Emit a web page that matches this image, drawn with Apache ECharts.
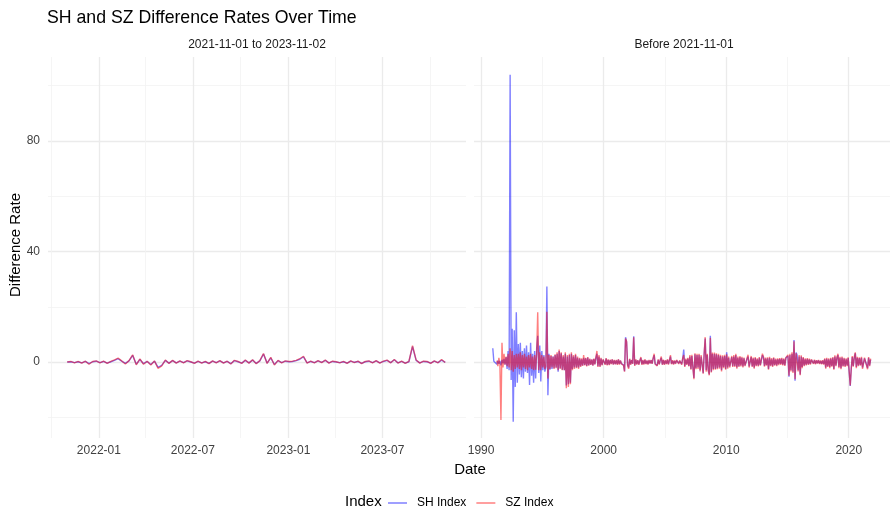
<!DOCTYPE html>
<html><head><meta charset="utf-8">
<script src="https://cdn.jsdelivr.net/npm/echarts@6/dist/echarts.min.js"></script>
<style>html,body{margin:0;padding:0;background:#fff}#c{width:890px;height:510px}</style>
</head><body><div id="c"></div>
<script>
const seriesNames = ['SH Index', 'SZ Index'];
const panelTitles = ['2021-11-01 to 2023-11-02', 'Before 2021-11-01'];

// Left panel: weekly readings starting 2021-11-01
const leftStartDate = '2021-11-01';
const leftStepDays = 7;
const shLeft = [
  0.0, 0.1, -0.2, 0.1, -0.3, 0.2, -0.6, 0.1, 0.3, -0.2,
  0.2, -0.4, 0.1, 0.6, 1.2, 0.3, -0.5, 0.4, 2.4, -0.8,
  0.9, -0.6, 0.2, -0.9, 0.3, -1.9, -1.2, 0.6, -0.4, 0.5,
  -0.3, 0.3, -0.2, 0.4, 0.0, -0.4, 0.2, -0.3, 0.1, -0.5,
  0.3, -0.2, 0.4, -0.3, 0.2, -0.6, 0.5, 0.1, -0.4, 0.6,
  -0.3, 0.7, -0.5, 0.4, 2.9, -0.4, 1.5, -0.9, 0.5, -0.2,
  0.3, 0.1, 0.2, 0.5, 1.0, 1.9, -0.3, 0.2, -0.2, 0.4,
  -0.1, 0.6, -0.3, 0.2, 0.0, -0.2, 0.1, -0.4, 0.3, -0.1,
  0.2, -0.5, 0.1, 0.3, -0.2, 0.4, -0.3, 0.2, 0.6, -0.2,
  0.8, -0.3, 0.2, -0.4, 0.1, 5.6, 0.6, -0.3, 0.2, 0.1,
  -0.4, 0.3, -0.2, 0.7, -0.1
];
const szLeft = [
  0.0, 0.2, -0.3, 0.2, -0.4, 0.3, -0.8, 0.2, 0.4, -0.3,
  0.3, -0.5, 0.2, 0.8, 1.4, 0.4, -0.7, 0.5, 2.6, -1.0,
  1.1, -0.8, 0.3, -1.1, 0.4, -2.3, -1.4, 0.7, -0.5, 0.6,
  -0.4, 0.4, -0.3, 0.5, 0.1, -0.5, 0.3, -0.4, 0.2, -0.6,
  0.4, -0.3, 0.5, -0.4, 0.3, -0.7, 0.6, 0.2, -0.5, 0.7,
  -0.4, 0.8, -0.6, 0.5, 3.1, -0.5, 1.7, -1.1, 0.6, -0.3,
  0.4, 0.2, 0.3, 0.6, 1.2, 2.1, -0.4, 0.3, -0.3, 0.5,
  -0.2, 0.7, -0.4, 0.3, 0.1, -0.3, 0.2, -0.5, 0.4, -0.2,
  0.3, -0.6, 0.2, 0.4, -0.3, 0.5, -0.4, 0.3, 0.7, -0.3,
  0.9, -0.4, 0.3, -0.5, 0.2, 5.9, 0.7, -0.4, 0.3, 0.2,
  -0.5, 0.4, -0.3, 0.9, -0.2
];

// Right panel: monthly readings (mid-month) starting 1990-12
const rightStartMonth = '1990-12';
const shRight = [
  5.0,
  0.3, -0.4, 0.6, -0.8, 0.5, -0.6, 0.4, -1.2, 0.8, -0.5, 1.1, -0.9,   // 1991
  1.8, -2.5, 4.0, -3.0, 104, -6.5, 12.0, -21.6, 11.5, -9.0, 18.0, -7.5, // 1992
  6.5, -4.5, 7.0, -5.5, 4.0, -6.0, 5.0, -3.5, 6.0, -4.0, 3.5, -8.3,   // 1993
  7.0, -5.0, 3.0, -7.5, 4.0, -6.0, 5.0, 9.5, -4.0, 6.0, -7.0, 4.0,    // 1994
  -3.0, 2.5, -3.5, -2.0, 27.3, -12.0, 3.0, -2.8, 2.2, -2.5, 2.0, -2.2, // 1995
  2.5, -2.0, 3.0, -3.5, 4.0, -2.2, 3.2, -2.8, 2.0, -3.0, 3.0, -8.5,   // 1996
  2.0, -8.0, 2.5, -7.5, 3.0, -2.5, 2.0, -2.0, 2.5, -2.0, 1.5, -2.0,   // 1997
  1.2, -1.5, 1.0, -1.2, 1.5, -1.0, 1.3, -1.4, 1.6, -1.1, 1.0, -0.9,   // 1998
  0.9, -1.2, 1.1, -0.8, 1.5, 3.0, -1.5, 2.0, -1.6, 1.2, -1.0, 0.8,    // 1999
  1.0, -0.8, 1.2, -1.0, 0.8, -0.9, 0.7, -0.6, 0.9, -0.8, 0.6, -0.7,   // 2000
  0.6, -0.8, 0.9, -0.7, 0.5, -0.6, -1.2, -1.0, -3.3, 9.0, 7.2, -1.0,  // 2001
  -2.0, 1.0, -0.8, 0.7, -0.6, 9.3, -1.2, 0.8, -0.7, 0.6, -0.8, 0.5,   // 2002
  1.5, -0.8, 0.6, -0.7, 0.8, -0.6, 0.5, -0.7, 0.6, -0.5, 0.7, -0.6,   // 2003
  1.2, 2.5, -0.6, -1.0, -1.2, 0.8, -0.7, 0.6, 1.5, -0.9, 0.7, -0.8,   // 2004
  0.5, -0.6, 0.8, -0.7, -0.9, 2.0, -0.6, 0.5, -0.7, 0.4, -0.5, 0.6,   // 2005
  0.7, -0.5, 0.4, 0.9, -0.8, 1.2, 4.5, -1.5, 0.9, -0.8, 1.2, -1.4,    // 2006
  2.0, -2.5, 2.2, -1.8, -5.8, 2.8, -2.2, 2.5, -2.0, 2.6, -3.0, 2.0,   // 2007
  2.5, -4.0, 2.8, 8.5, -3.0, 2.6, -2.8, -4.5, 9.5, -3.5, 3.0, -2.5,   // 2008
  3.0, -2.5, 2.8, -2.2, 2.5, -2.0, 2.2, -3.0, 2.0, -1.8, 2.2, -2.5,   // 2009
  3.5, -2.0, 1.5, -1.6, -2.2, 1.8, -1.5, 2.0, -1.4, 2.5, -2.0, 1.5,   // 2010
  -1.5, 1.8, -1.2, 1.5, -1.6, 1.3, -1.2, -1.5, 1.2, 2.0, -1.6, -1.2,  // 2011
  1.8, -1.5, 1.2, -2.0, 1.4, -1.2, 1.0, -1.3, 1.5, -1.0, -1.2, 2.5,   // 2012
  1.6, -1.4, 1.2, -1.0, 1.3, -2.5, 1.5, -1.2, 1.0, -1.5, 1.4, -1.0,   // 2013
  0.9, -1.2, 1.0, -0.8, 1.1, -0.7, 1.2, -0.9, 1.0, -1.1, 1.5, 2.0,    // 2014
  2.2, -5.3, 2.5, -3.0, 3.0, -3.5, 8.0, -6.8, 3.4, 2.5, -3.0, 2.0,    // 2015
  -4.5, 2.0, -1.8, 1.5, -1.2, 1.0, -0.9, 1.1, -0.8, 0.9, -0.7, 0.8,   // 2016
  0.6, -0.5, 0.7, -0.6, 0.5, -0.4, 0.6, -0.5, 0.4, -0.6, 0.5, -0.7,   // 2017
  1.0, -2.0, 1.2, -1.5, 1.0, -1.8, 1.2, -1.4, 1.5, -2.5, 2.0, -1.2,   // 2018
  1.5, 2.5, -1.8, 1.5, -2.2, 1.6, -1.4, 1.2, -1.5, 1.0, -1.2, 1.4,    // 2019
  1.5, -8.7, -2.5, 1.8, -1.4, 1.5, 3.2, -1.8, 1.5, -1.2, 1.4, -1.0,   // 2020
  1.5, -2.0, -1.8, 1.3, 1.2, -1.0, -2.2, 1.5, -1.2, 0.9               // 2021
];
const szRight = [
  null,
  null, null, null, 0.5, -1.5, 1.5, -0.8, -21.0, 7.0, -2.0, 3.0, -1.0, // 1991
  2.0, -1.5, 3.0, -2.0, 5.0, -3.0, 4.0, -3.5, 2.5, -2.5, 3.0, -2.0,   // 1992
  3.0, -2.5, 3.5, -3.0, 2.5, -2.0, 3.0, -2.5, 2.0, -3.0, 2.5, -2.0,   // 1993
  3.0, -2.5, 2.0, -3.0, 2.5, -2.8, 3.0, 18.0, -3.0, 3.5, -3.0, 2.5,   // 1994
  -2.0, 2.0, -2.5, -1.5, 18.2, -6.0, 2.5, -2.5, 2.5, -2.0, 2.0, -2.5, // 1995
  2.8, -2.2, 3.5, -3.0, 4.5, -2.5, 3.5, -3.0, 2.5, -3.0, 3.5, -9.5,   // 1996
  2.5, -9.0, 3.0, -8.0, 3.5, -3.0, 2.5, -2.5, 3.0, -2.2, 2.0, -2.5,   // 1997
  1.5, -1.8, 1.3, -1.4, 2.5, -1.2, 1.5, -1.6, 1.8, -1.3, 1.2, -1.0,   // 1998
  1.0, -1.3, 1.2, -0.9, 1.8, 4.0, -1.8, 2.5, -1.8, 1.5, -1.2, 1.0,    // 1999
  1.5, -1.0, 1.4, -1.2, 1.0, -1.1, 0.9, -0.8, 1.0, -0.9, 0.8, -0.8,   // 2000
  0.8, -1.0, 1.0, -0.9, 0.6, -0.7, -1.4, -1.2, -3.5, 8.5, 7.5, -1.2,  // 2001
  -2.5, 1.2, -1.0, 0.8, -0.7, 9.0, -1.4, 1.0, -0.9, 0.7, -1.0, 0.6,   // 2002
  1.8, -1.0, 0.8, -0.9, 1.0, -0.8, 0.6, -0.9, 0.8, -0.6, 0.8, -0.7,   // 2003
  1.5, 3.0, -0.8, -1.2, -1.4, 1.0, -0.9, 0.8, 2.0, -1.0, 0.9, -1.0,   // 2004
  0.7, -0.8, 1.0, -0.9, -1.1, 2.5, -0.8, 0.7, -0.9, 0.6, -0.7, 0.8,   // 2005
  0.9, -0.7, 0.6, 1.1, -1.0, 1.5, 2.5, -1.8, 1.2, -1.0, 1.5, -1.6,    // 2006
  2.5, -2.8, 2.6, -2.2, -6.2, 3.2, -2.6, 3.0, -2.5, 3.0, -3.4, 2.5,   // 2007
  3.0, -4.2, 3.2, 9.0, -3.5, 3.0, -3.2, -4.8, 8.8, -3.8, 3.4, -3.0,   // 2008
  3.4, -2.8, 3.2, -2.6, 3.0, -2.4, 2.6, -3.4, 2.4, -2.2, 2.6, -2.8,   // 2009
  2.8, -2.4, 2.0, -2.0, -2.6, 2.2, -1.8, 2.5, -1.8, 3.0, -2.4, 2.0,   // 2010
  -1.8, 2.2, -1.6, 1.9, -2.0, 1.6, -1.5, -1.8, 1.5, 2.6, -2.0, -1.5,  // 2011
  2.2, -1.8, 1.6, -2.4, 1.8, -1.5, 1.3, -1.6, 1.8, -1.3, -1.5, 3.0,   // 2012
  2.0, -1.7, 1.6, -1.3, 1.7, -2.8, 1.9, -1.5, 1.4, -1.8, 1.7, -1.3,   // 2013
  1.2, -1.5, 1.3, -1.1, 1.4, -1.0, 1.5, -1.2, 1.3, -1.4, 1.6, 1.8,    // 2014
  2.6, -5.0, 3.0, -3.4, 3.5, -4.0, 7.5, -6.2, 3.2, 3.0, -3.4, 2.5,    // 2015
  -4.8, 2.4, -2.2, 1.8, -1.5, 1.3, -1.2, 1.4, -1.0, 1.2, -0.9, 1.0,   // 2016
  0.8, -0.7, 0.9, -0.8, 0.7, -0.6, 0.8, -0.7, 0.6, -0.8, 0.7, -0.9,   // 2017
  1.3, -2.4, 1.5, -1.8, 1.3, -2.2, 1.5, -1.7, 1.8, -2.8, 2.4, -1.5,   // 2018
  1.8, 3.0, -2.2, 1.9, -2.6, 2.0, -1.7, 1.5, -1.8, 1.3, -1.5, 1.7,    // 2019
  1.8, -8.5, -2.8, 2.2, -1.7, 1.9, 3.5, -2.2, 1.9, -1.5, 1.7, -1.3,   // 2020
  1.9, -2.5, -2.2, 1.6, 1.5, -1.3, -2.6, 1.8, -1.5, 1.2               // 2021
];

// Axis ranges and ticks
const leftRange = ['2021-09-25', '2023-12-09'];
const rightRange = ['1989-06-03', '2023-05-15'];
const leftMajorTicks = ['2022-01-01', '2022-07-01', '2023-01-01', '2023-07-01'];
const leftMinorTicks = ['2021-10-01', '2022-04-01', '2022-10-01', '2023-04-01', '2023-10-01'];
const rightMajorTicks = ['1990-01-01', '2000-01-01', '2010-01-01', '2020-01-01'];
const rightMinorTicks = ['1995-01-01', '2005-01-01', '2015-01-01'];
const yRange = [-27.5, 110.4];
const yMajorTicks = [0, 40, 80];
const yMinorTicks = [-20, 20, 60, 100];

const colors = ['rgba(0,0,255,0.5)', 'rgba(255,0,0,0.5)'];
const FONT = "'Liberation Sans', Arial, sans-serif";
const DAY = 86400000;
const ts = s => { const p = s.split('-').map(Number); return Date.UTC(p[0], p[1] - 1, p[2] || 1); };

const ls = ts(leftStartDate);
const leftDates = shLeft.map((_, i) => ls + i * leftStepDays * DAY);
const rp = rightStartMonth.split('-').map(Number);
const rightDates = shRight.map((_, i) => Date.UTC(rp[0], rp[1] - 1 + i, 15));
const pair = (dates, vals) => vals.map((v, i) => [dates[i], v]);

const pad = n => (n < 10 ? '0' : '') + n;
const fmtYM = v => { const d = new Date(v); return d.getUTCFullYear() + '-' + pad(d.getUTCMonth() + 1); };
const fmtY = v => String(new Date(v).getUTCFullYear());

const majorLine = { show: true, lineStyle: { color: '#ebebeb', width: 1.3 } };
const minorLine = { show: true, lineStyle: { color: '#f2f2f2', width: 0.8 } };
const labelStyle = { color: '#404040', fontSize: 12, fontFamily: FONT };

function xAxes(gridIndex, range, major, minor, fmt) {
  return [
    { type: 'value', gridIndex, min: ts(range[0]), max: ts(range[1]), position: 'bottom',
      axisLine: { show: false }, axisTick: { show: false, customValues: major.map(ts) },
      axisLabel: Object.assign({ customValues: major.map(ts), formatter: fmt, margin: 7 }, labelStyle),
      splitLine: majorLine },
    { type: 'value', gridIndex, min: ts(range[0]), max: ts(range[1]), position: 'top',
      axisLine: { show: false }, axisTick: { show: false, customValues: minor.map(ts) },
      axisLabel: { show: false }, splitLine: minorLine }
  ];
}
function yAxes(gridIndex, showLabels) {
  return [
    { type: 'value', gridIndex, min: yRange[0], max: yRange[1], position: 'left',
      axisLine: { show: false }, axisTick: { show: false, customValues: yMajorTicks },
      axisLabel: Object.assign({ show: showLabels, customValues: yMajorTicks, margin: 8 }, labelStyle),
      splitLine: majorLine },
    { type: 'value', gridIndex, min: yRange[0], max: yRange[1], position: 'right',
      axisLine: { show: false }, axisTick: { show: false, customValues: yMinorTicks },
      axisLabel: { show: false }, splitLine: minorLine }
  ];
}

function lineSeries(name, idx, xi, yi, data) {
  return { name, type: 'line', xAxisIndex: xi, yAxisIndex: yi, data, symbol: 'none',
    showSymbol: false, color: colors[idx], lineStyle: { color: colors[idx], width: 1.4 },
    connectNulls: false, animation: false, z: 3 + idx };
}

const chart = echarts.init(document.getElementById('c'), null, { renderer: 'canvas' });
chart.setOption({
  animation: false,
  backgroundColor: '#ffffff',
  textStyle: { fontFamily: FONT },
  title: { text: 'SH and SZ Difference Rates Over Time', left: 42, top: 4,
    textStyle: { fontSize: 17.7, fontWeight: 'normal', color: '#000', fontFamily: FONT } },
  grid: [
    { left: 48, top: 57, width: 418, height: 381 },
    { left: 474, top: 57, width: 418, height: 381 }
  ],
  xAxis: [].concat(
    xAxes(0, leftRange, leftMajorTicks, leftMinorTicks, fmtYM),
    xAxes(1, rightRange, rightMajorTicks, rightMinorTicks, fmtY)
  ),
  yAxis: [].concat(yAxes(0, true), yAxes(1, false)),
  legend: {
    data: seriesNames, left: 383, top: 492, icon: 'rect', itemWidth: 19, itemHeight: 1.5,
    itemGap: 10, textStyle: { fontSize: 12, color: '#000', fontFamily: FONT, padding: [0, 0, 0, 5] }
  },
  graphic: [
    { type: 'text', style: { text: panelTitles[0], x: 257, y: 45, align: 'center',
      verticalAlign: 'middle', fontSize: 12, fill: '#1a1a1a', fontFamily: FONT } },
    { type: 'text', style: { text: panelTitles[1], x: 684, y: 45, align: 'center',
      verticalAlign: 'middle', fontSize: 12, fill: '#1a1a1a', fontFamily: FONT } },
    { type: 'text', x: 16, y: 245, rotation: Math.PI / 2, style: { text: 'Difference Rate', x: 0, y: 0,
      align: 'center', verticalAlign: 'middle', fontSize: 15, fill: '#000', fontFamily: FONT } },
    { type: 'text', style: { text: 'Date', x: 470, y: 470, align: 'center', verticalAlign: 'middle',
      fontSize: 15, fill: '#000', fontFamily: FONT } },
    { type: 'text', style: { text: 'Index', x: 345, y: 502, align: 'left', verticalAlign: 'middle',
      fontSize: 15, fill: '#000', fontFamily: FONT } }
  ],
  series: [
    lineSeries(seriesNames[0], 0, 0, 0, pair(leftDates, shLeft)),
    lineSeries(seriesNames[1], 1, 0, 0, pair(leftDates, szLeft)),
    lineSeries(seriesNames[0], 0, 2, 2, pair(rightDates, shRight)),
    lineSeries(seriesNames[1], 1, 2, 2, pair(rightDates, szRight))
  ]
});
</script></body></html>
